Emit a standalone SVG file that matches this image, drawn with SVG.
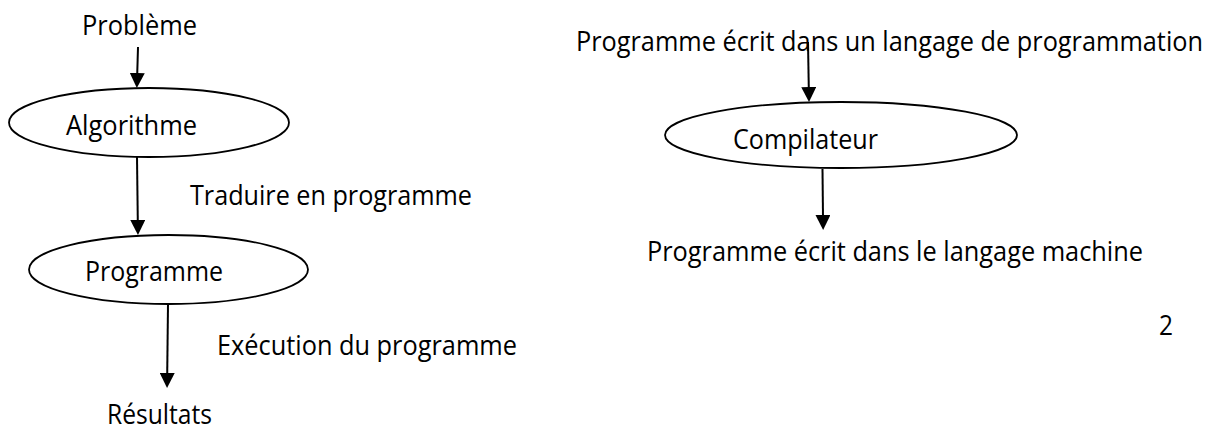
<svg xmlns="http://www.w3.org/2000/svg" width="1220" height="428" viewBox="0 0 1220 428">
  <style>
    .bg { fill: #ffffff; }
    .node { fill: #ffffff; stroke: #000000; stroke-width: 1.8; }
    .lbl { font-family: "Open Sans", "Noto Sans", "Liberation Sans", sans-serif; font-size: 26.5px; fill: #000000; }
    .edge { stroke: #000000; stroke-width: 2; fill: none; marker-end: url(#arrow); }
  </style>
  <defs>
    <marker id="arrow" viewBox="0 0 15 15" markerWidth="15" markerHeight="15" markerUnits="userSpaceOnUse" refX="2" refY="7.5" orient="auto">
      <path d="M0,0 L15,7.5 L0,15 Z" fill="#000000"/>
    </marker>
  </defs>

  <rect class="bg" x="0" y="0" width="1220" height="428"/>

  <!-- left chain: problem → algorithm → program → results -->
  <g id="probleme">
    <text class="lbl" x="82" y="35" textLength="115" lengthAdjust="spacingAndGlyphs">Problème</text>
  </g>
  <g id="algorithme">
    <ellipse class="node" cx="149" cy="122.5" rx="140" ry="34.5"/>
    <text class="lbl" x="66" y="135" textLength="131" lengthAdjust="spacingAndGlyphs">Algorithme</text>
  </g>
  <g id="programme">
    <ellipse class="node" cx="168.5" cy="269.5" rx="139.5" ry="34.5"/>
    <text class="lbl" x="85" y="281" textLength="138" lengthAdjust="spacingAndGlyphs">Programme</text>
  </g>
  <g id="resultats">
    <text class="lbl" x="107" y="424" textLength="105" lengthAdjust="spacingAndGlyphs">Résultats</text>
  </g>

  <!-- right chain: source program → compiler → machine code -->
  <g id="source">
    <text class="lbl" x="576" y="51" textLength="627" lengthAdjust="spacingAndGlyphs">Programme écrit dans un langage de programmation</text>
  </g>
  <g id="compilateur">
    <ellipse class="node" cx="841" cy="135" rx="176" ry="33"/>
    <text class="lbl" x="733" y="149" textLength="145" lengthAdjust="spacingAndGlyphs">Compilateur</text>
  </g>
  <g id="machine">
    <text class="lbl" x="647" y="261" textLength="496" lengthAdjust="spacingAndGlyphs">Programme écrit dans le langage machine</text>
  </g>

  <g id="page-number">
    <text class="lbl" x="1159" y="335" textLength="14" lengthAdjust="spacingAndGlyphs">2</text>
  </g>

  <!-- connectors -->
  <g id="connectors">
    <line class="edge" x1="138" y1="47" x2="137.2" y2="75"/>
    <line class="edge" x1="137" y1="157" x2="137.8" y2="222"/>
    <line class="edge" x1="168" y1="304" x2="167.2" y2="375"/>
    <line class="edge" x1="808" y1="42" x2="808.8" y2="89"/>
    <line class="edge" x1="822.5" y1="169" x2="823" y2="217"/>
    <text class="lbl" x="190" y="205" textLength="282" lengthAdjust="spacingAndGlyphs">Traduire en programme</text>
    <text class="lbl" x="217" y="355" textLength="300" lengthAdjust="spacingAndGlyphs">Exécution du programme</text>
  </g>
</svg>
